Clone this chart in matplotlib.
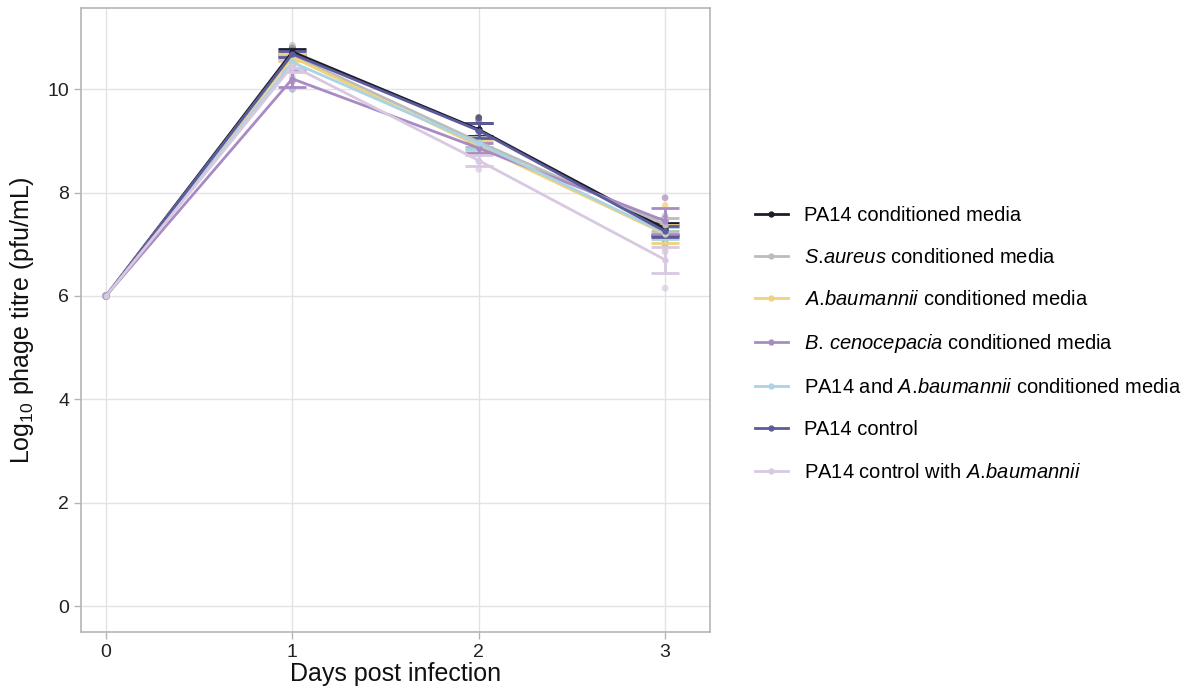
import numpy as np
import matplotlib
matplotlib.use("Agg")
import matplotlib.pyplot as plt

plt.rcParams["font.family"] = ["Liberation Sans", "DejaVu Sans"]
plt.rcParams["mathtext.fontset"] = "custom"
plt.rcParams["mathtext.rm"] = "Liberation Sans"
plt.rcParams["mathtext.it"] = "Liberation Sans:italic"
plt.rcParams["mathtext.bf"] = "Liberation Sans:bold"

days = [0, 1, 2, 3]
groups = [
    "PA14 conditioned media",
    "S.aureus conditioned media",
    "A.baumannii conditioned media",
    "B. cenocepacia conditioned media",
    "PA14 and A.baumannii conditioned media",
    "PA14 control",
    "PA14 control with A.baumannii",
]
legend_labels = [
    "PA14 conditioned media",
    r"$\it{S.\!aureus}$ conditioned media",
    r"$\it{A.\!baumannii}$ conditioned media",
    r"$\it{B.\,cenocepacia}$ conditioned media",
    r"PA14 and $\it{A.\!baumannii}$ conditioned media",
    "PA14 control",
    r"PA14 control with $\it{A.\!baumannii}$",
]
colors = ["#1c1c2b", "#bcbcbc", "#f0d27c", "#a98bc4", "#aad4e4", "#5c5b9b", "#d8c9e1"]

# mean log10 titre per day
mean_pa14_cm = [6.0, 10.72, 9.22, 7.30]
mean_sa_cm = [6.0, 10.66, 8.98, 7.38]
mean_ab_cm = [6.0, 10.62, 8.90, 7.20]
mean_bc_cm = [6.0, 10.20, 8.86, 7.45]
mean_pa14ab_cm = [6.0, 10.52, 8.95, 7.22]
mean_ctrl = [6.0, 10.68, 9.20, 7.25]
mean_ctrl_ab = [6.0, 10.45, 8.62, 6.70]
means = [mean_pa14_cm, mean_sa_cm, mean_ab_cm, mean_bc_cm, mean_pa14ab_cm, mean_ctrl, mean_ctrl_ab]

# standard error per day (days 1-3)
se_pa14_cm = [0.05, 0.12, 0.12]
se_sa_cm = [0.06, 0.10, 0.12]
se_ab_cm = [0.07, 0.10, 0.18]
se_bc_cm = [0.15, 0.10, 0.25]
se_pa14ab_cm = [0.12, 0.10, 0.12]
se_ctrl = [0.05, 0.14, 0.10]
se_ctrl_ab = [0.12, 0.10, 0.25]
ses = [se_pa14_cm, se_sa_cm, se_ab_cm, se_bc_cm, se_pa14ab_cm, se_ctrl, se_ctrl_ab]

# individual replicate values (days 1-3)
rep_pa14_cm = [[10.80, 10.70, 10.65], [9.45, 9.20, 9.00], [7.50, 7.30, 7.10]]
rep_sa_cm = [[10.85, 10.60, 10.55], [9.10, 8.95, 8.90], [7.55, 7.35, 7.25]]
rep_ab_cm = [[10.75, 10.60, 10.50], [9.05, 8.85, 8.80], [7.75, 7.05, 6.90]]
rep_bc_cm = [[10.45, 10.15, 10.00], [9.05, 8.80, 8.75], [7.90, 7.45, 7.00]]
rep_pa14ab_cm = [[10.75, 10.45, 10.02], [9.10, 8.90, 8.85], [7.45, 7.20, 7.00]]
rep_ctrl = [[10.75, 10.68, 10.60], [9.40, 9.20, 9.00], [7.40, 7.25, 7.10]]
rep_ctrl_ab = [[10.65, 10.45, 10.25], [8.80, 8.60, 8.45], [7.10, 6.85, 6.15]]
reps = [rep_pa14_cm, rep_sa_cm, rep_ab_cm, rep_bc_cm, rep_pa14ab_cm, rep_ctrl, rep_ctrl_ab]

fig = plt.figure(figsize=(11.91, 6.97), dpi=100)
ax = fig.add_axes([0.068, 0.0933, 0.528, 0.8952])

for i, g in enumerate(groups):
    c = colors[i]
    for d_idx, vals in enumerate(reps[i]):
        ax.scatter([days[d_idx + 1]] * len(vals), vals, s=24, color=c, alpha=0.7,
                   edgecolors="none", zorder=2)
    ax.scatter([0], [6.0], s=30, color=c, alpha=0.5, edgecolors="none", zorder=2)
    ax.errorbar(days[1:], means[i][1:], yerr=ses[i], color=c, lw=0, capsize=10,
                capthick=2.0, elinewidth=2.0, zorder=3)
    ax.plot(days, means[i], color=c, lw=2.0, marker="o", markersize=3.5,
            label=legend_labels[i], zorder=4)

ax.set_xlim(-0.134, 3.24)
ax.set_ylim(-0.5, 11.57)
ax.set_xticks([0, 1, 2, 3])
ax.set_yticks([0, 2, 4, 6, 8, 10])
ax.grid(True, color="#e3e3e3", lw=1.0)
ax.set_axisbelow(True)
for s in ax.spines.values():
    s.set_color("#b5b5b5")
    s.set_linewidth(1.2)
ax.tick_params(colors="#b5b5b5", labelcolor="#222222", labelsize=14, length=5, width=1.0)
ax.set_xlabel("Days post infection", fontsize=18, color="#111111", labelpad=1)
ax.set_ylabel(r"Log$_{10}$ phage titre (pfu/mL)", fontsize=18, color="#111111", labelpad=8)

leg = fig.legend(loc="center left", bbox_to_anchor=(0.619, 0.507), frameon=False,
                 fontsize=14.5, labelspacing=1.15, handlelength=1.6, handletextpad=0.8)

fig.savefig("out.png", dpi=100)
